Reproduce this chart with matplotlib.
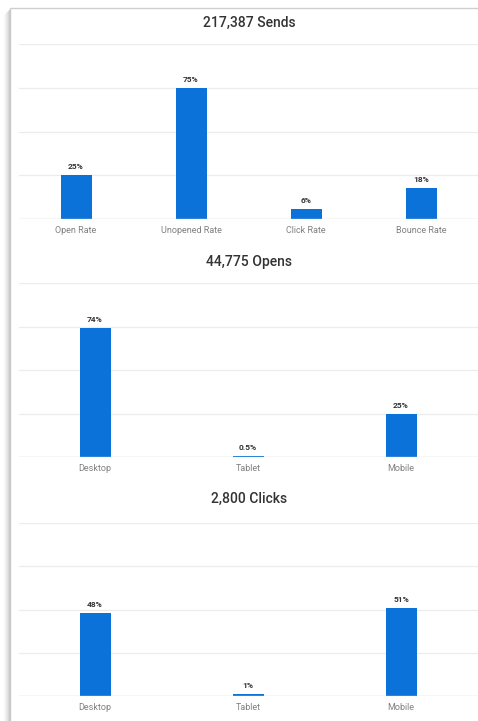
import matplotlib
matplotlib.use("Agg")
import matplotlib.pyplot as plt
from matplotlib.patches import Rectangle
from matplotlib.lines import Line2D

plt.rcParams['font.family'] = ['Roboto', 'DejaVu Sans']

# ---- data ----
sends_title = "217,387 Sends"
sends_categories = ["Open Rate", "Unopened Rate", "Click Rate", "Bounce Rate"]
sends_values = [25, 75, 6, 18]
sends_labels = ["25%", "75%", "6%", "18%"]

opens_title = "44,775 Opens"
opens_categories = ["Desktop", "Tablet", "Mobile"]
opens_values = [74, 0.5, 25]
opens_labels = ["74%", "0.5%", "25%"]

clicks_title = "2,800 Clicks"
clicks_categories = ["Desktop", "Tablet", "Mobile"]
clicks_values = [48, 1, 51]
clicks_labels = ["48%", "1%", "51%"]

y_ticks = [0, 25, 50, 75, 100]

W, H = 478, 721
DPI = 100
fig = plt.figure(figsize=(W / DPI, H / DPI), dpi=DPI)
fig.patch.set_facecolor("white")

BAR_COLOR = "#0a72d9"

# card with shadow
for i, a in enumerate([0.02, 0.04, 0.06, 0.08, 0.11, 0.15]):
    x = 4 + i
    fig.add_artist(Line2D([x / W, x / W], [0, 1 - (10 + (5 - i)) / H],
                          transform=fig.transFigure, color="black", alpha=a, lw=1))
fig.add_artist(Rectangle((10 / W, -0.05), 1.1, 1 - 8 / H + 0.05,
                         transform=fig.transFigure, facecolor="white",
                         edgecolor="#cfcfcf", lw=1.0, zorder=0))

def px_axes(left, top, right, bottom):
    return fig.add_axes([left / W, 1 - bottom / H, (right - left) / W, (bottom - top) / H])

def draw(ax, title, title_y, cats, vals, labels):
    n = len(cats)
    ax.set_xlim(-0.5, n - 0.5)
    ax.set_ylim(0, 100)
    ax.set_facecolor("none")
    for s in ax.spines.values():
        s.set_visible(False)
    for t in y_ticks[1:]:
        ax.axhline(t, color="#ececec", lw=0.9, zorder=0)
    ax.axhline(0, color="#d2d2d2", lw=1.0, zorder=3)
    axw_px = ax.get_position().width * W
    bw = 31 / (axw_px / n)
    xs = list(range(n))
    ax.bar(xs, vals, width=bw, color=BAR_COLOR, zorder=2)
    for x, v, lab in zip(xs, vals, labels):
        ax.annotate(lab, (x, v), xytext=(0, 3.5), textcoords="offset points",
                    ha="center", va="bottom", fontsize=6, fontweight="bold",
                    color="#333333")
    ax.set_xticks(xs)
    ax.set_xticklabels(cats, fontsize=6.5, color="#808080")
    ax.tick_params(axis="x", length=0, pad=5)
    ax.set_yticks([])
    fig.text(249 / W, 1 - title_y / H, title, ha="center", va="center",
             fontsize=10, fontweight="medium", color="#333333")

ax1 = px_axes(18.5, 44, 478.5, 219)
draw(ax1, sends_title, 23, sends_categories, sends_values, sends_labels)
ax2 = px_axes(18.5, 283, 477.5, 457)
draw(ax2, opens_title, 262, opens_categories, opens_values, opens_labels)
ax3 = px_axes(18.5, 523, 477.5, 696)
draw(ax3, clicks_title, 499, clicks_categories, clicks_values, clicks_labels)

fig.savefig("out.png", dpi=DPI)
